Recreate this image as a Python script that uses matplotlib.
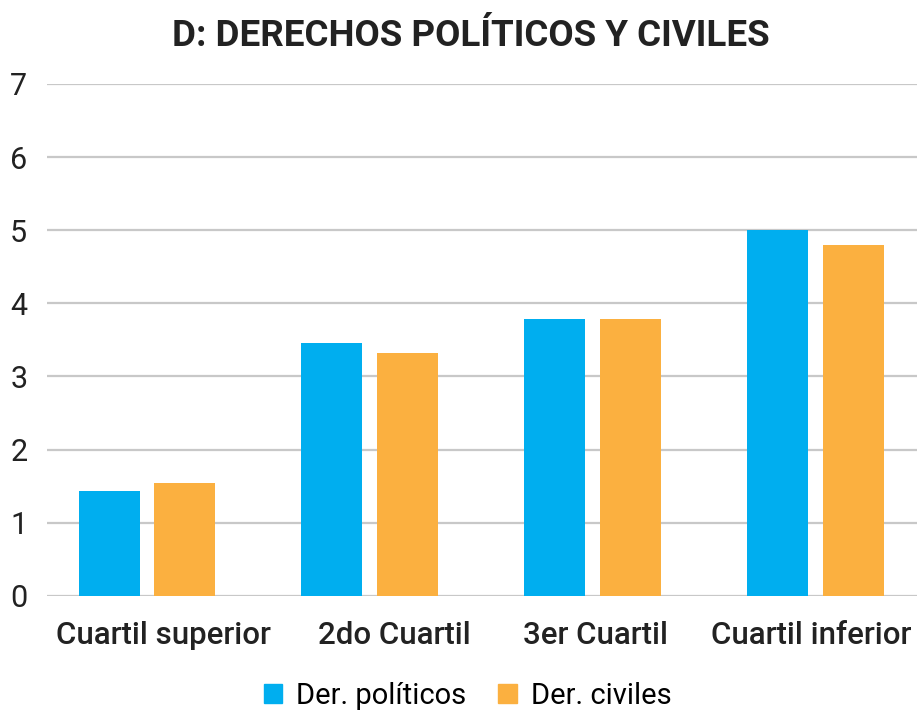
import matplotlib
matplotlib.use("Agg")
import matplotlib.pyplot as plt
import matplotlib.transforms as mtransforms
import numpy as np
from matplotlib.patches import Patch

categories = ["Cuartil superior", "2do Cuartil", "3er Cuartil", "Cuartil inferior"]
politicos = [1.43, 3.46, 3.78, 5.0]
civiles = [1.54, 3.32, 3.78, 4.8]
series_names = ["Der. políticos", "Der. civiles"]
yticks = [0, 1, 2, 3, 4, 5, 6, 7]

# layout: horizontal shift of category labels (pixels)
label_shift_px = [16, 25, 3, -4]

BLUE = "#00AEEF"
ORANGE = "#FBB040"
plt.rcParams['font.family'] = ["Roboto", "DejaVu Sans"]

fig = plt.figure(figsize=(9.17, 7.11), dpi=100)
ax = fig.add_axes([0.051, 0.162, 0.949, 0.72])

x = np.arange(len(categories))
w = 0.274
off = 0.17
ax.bar(x - off, politicos, width=w, color=BLUE, zorder=3)
ax.bar(x + off, civiles, width=w, color=ORANGE, zorder=3)

ax.set_xlim(-0.45, 3.457)
ax.set_ylim(0, 7)
ax.set_yticks(yticks)
ax.set_yticklabels([str(t) for t in yticks], fontsize=22, color="#222222")
ax.yaxis.grid(True, color="#c8c8c8", linewidth=1.6, zorder=0)
ax.set_axisbelow(True)
ax.set_xticks(x)
ax.set_xticklabels(categories, fontsize=22.5, fontweight="medium", color="#222222")
ax.tick_params(axis="both", length=0)
ax.tick_params(axis="x", pad=18)
ax.tick_params(axis="y", pad=14)
for s in ax.spines.values():
    s.set_visible(False)

for lab, dx in zip(ax.get_xticklabels(), label_shift_px):
    lab.set_transform(lab.get_transform() +
                      mtransforms.ScaledTranslation(dx / 100, 0, fig.dpi_scale_trans))

fig.text(0.513, 0.949, "D: DERECHOS POLÍTICOS Y CIVILES", ha="center", va="center",
         fontsize=26.5, fontweight="bold", color="#222222")

handles = [Patch(color=BLUE), Patch(color=ORANGE)]
fig.legend(handles, series_names, loc="center", bbox_to_anchor=(0.510, 0.021),
           ncol=2, frameon=False, fontsize=21, handlelength=0.62, handleheight=0.62,
           handletextpad=0.5, columnspacing=1.1, borderpad=0.1)

fig.savefig("out.png", dpi=100)
